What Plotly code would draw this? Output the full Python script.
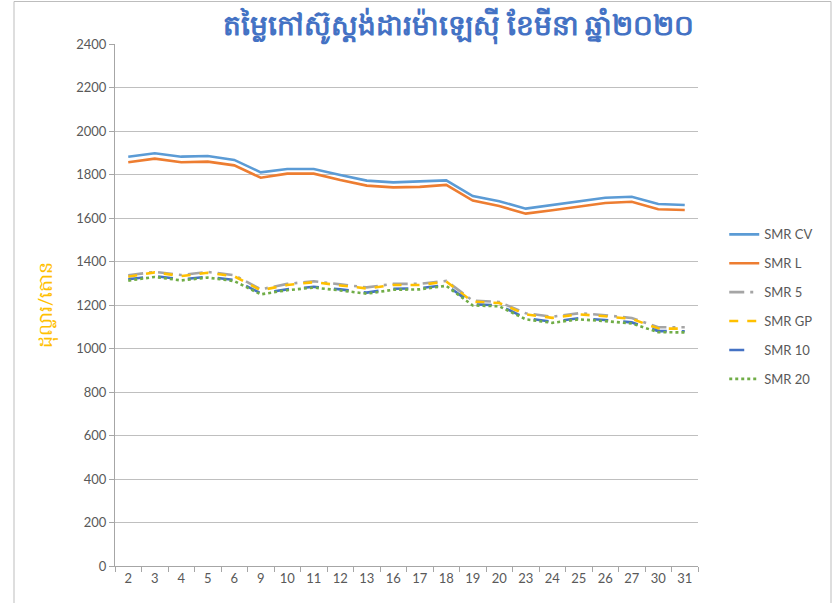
import plotly.graph_objects as go

days = ["2", "3", "4", "5", "6", "9", "10", "11", "12", "13", "16", "17", "18", "19", "20", "23", "24", "25", "26", "27", "30", "31"]

smr_cv = [1882, 1898, 1882, 1885, 1867, 1810, 1825, 1825, 1798, 1772, 1764, 1767, 1773, 1701, 1677, 1643, 1660, 1677, 1693, 1698, 1664, 1660]
smr_l = [1856, 1873, 1856, 1859, 1842, 1785, 1804, 1804, 1775, 1749, 1741, 1743, 1752, 1680, 1655, 1620, 1636, 1652, 1669, 1675, 1640, 1637]
smr_5 = [1337, 1352, 1338, 1352, 1337, 1272, 1297, 1309, 1295, 1281, 1297, 1297, 1311, 1220, 1214, 1162, 1146, 1162, 1153, 1140, 1098, 1098]
smr_gp = [1330, 1350, 1333, 1348, 1332, 1268, 1292, 1305, 1290, 1276, 1292, 1292, 1308, 1215, 1209, 1157, 1141, 1157, 1148, 1136, 1092, 1091]
smr_10 = [1318, 1333, 1318, 1330, 1315, 1254, 1272, 1284, 1272, 1257, 1275, 1277, 1292, 1203, 1199, 1139, 1123, 1139, 1131, 1120, 1080, 1079]
smr_20 = [1312, 1329, 1313, 1326, 1310, 1249, 1268, 1280, 1267, 1252, 1270, 1272, 1288, 1198, 1194, 1134, 1118, 1134, 1126, 1115, 1075, 1074]

series = [
    ("SMR CV", smr_cv, "#5B9BD5", "solid"),
    ("SMR L", smr_l, "#ED7D31", "solid"),
    ("SMR 5", smr_5, "#A5A5A5", "longdashdot"),
    ("SMR GP", smr_gp, "#FFC000", "dash"),
    ("SMR 10", smr_10, "#4472C4", "longdash"),
    ("SMR 20", smr_20, "#70AD47", "dot"),
]

title_text = "តម្លៃកៅស៊ូស្តង់ដារម៉ាឡេស៊ី ខែមីនា ឆ្នាំ២០២០"
y_title = "ដុល្លារ/តោន"

fig = go.Figure()
for name, vals, color, dash in series:
    fig.add_trace(go.Scatter(
        x=days, y=vals, name=name, mode="lines", legendgroup=name,
        line=dict(color=color, width=2.6, dash=dash),
    ))

font_family = "Lato, 'Noto Sans', sans-serif"

fig.update_layout(
    width=834, height=603,
    margin=dict(l=115, r=136, t=44, b=37, autoexpand=False),
    paper_bgcolor="white", plot_bgcolor="white",
    font=dict(family=font_family, size=13, color="#595959"),
    title=dict(text="<b>" + title_text + "</b>", x=0.55, xanchor="center", y=0.958, yanchor="middle",
               font=dict(size=28, color="#4472C4")),
    showlegend=True,
    legend=dict(x=1.045, xanchor="left", y=0.664, yanchor="top", tracegroupgap=9,
                font=dict(size=13, color="#595959"), bgcolor="rgba(0,0,0,0)"),
    xaxis=dict(type="category", range=[-0.5, 21.5], autorange=False, showgrid=False, showline=True,
               linecolor="#A6A6A6", linewidth=1,
               ticks="outside", ticklen=5, tickcolor="#A6A6A6", tickson="boundaries",
               tickfont=dict(size=13, color="#595959"), automargin=False),
    yaxis=dict(range=[0, 2400], dtick=200, showgrid=True, gridcolor="#BFBFBF", gridwidth=1,
               showline=True, linecolor="#A6A6A6", linewidth=1, ticks="outside", ticklen=5,
               tickcolor="#A6A6A6", zeroline=False, tickfont=dict(size=13, color="#595959"),
               automargin=False,
               title=dict(text=y_title, font=dict(size=19, color="#FFC000"), standoff=18)),
)

fig.add_shape(type="rect", xref="paper", yref="paper",
              x0=(14 - 115) / 583, x1=(831 - 115) / 583, y0=(566 - 606) / 522, y1=(566 - 1.5) / 522,
              line=dict(color="#BDBDBD", width=1), fillcolor="rgba(0,0,0,0)", layer="below")

fig.write_html("out.html", config={"displayModeBar": False},
               post_script="document.body.style.margin='0';")
